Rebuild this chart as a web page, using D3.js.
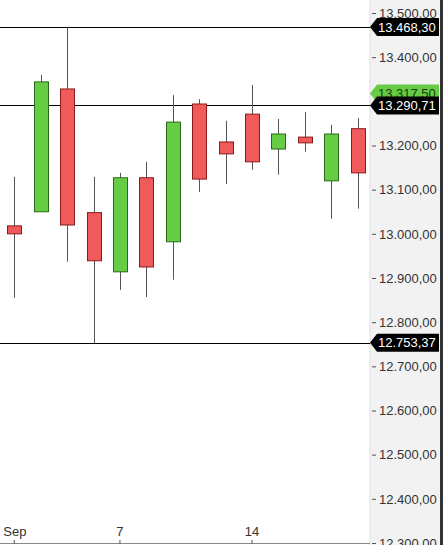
<!DOCTYPE html>
<html><head><meta charset="utf-8">
<script src="https://cdn.jsdelivr.net/npm/d3@7"></script>
<style>body{margin:0;background:#fff}svg{display:block}</style>
</head><body>
<svg id="c" width="444" height="545"></svg>
<script>
const days = ["Sep 1","Sep 2","Sep 3","Sep 4","Sep 7","Sep 8","Sep 9","Sep 10","Sep 11","Sep 14","Sep 15","Sep 16","Sep 17","Sep 18"];
const open  = [13018,13050,13328,13048,12914,13127,12982,13294,13208,13271,13192,13219,13120,13238];
const high  = [13129,13360,13468,13129,13138,13163,13314,13305,13256,13337,13260,13276,13247,13262];
const low   = [12855,13050,12937,12753,12873,12857,12896,13095,13113,13145,13134,13186,13034,13057];
const close = [13000,13344,13020,12939,13127,12925,13253,13124,13181,13163,13226,13206,13226,13138];
const yTicks = [13500,13400,13200,13100,13000,12900,12800,12700,12600,12500,12400,12300];
const xLabels = [{i:0,t:"Sep"},{i:4,t:"7"},{i:9,t:"14"}];
const levels = [13468.30,13290.71,12753.37];
const lastPrice = 13317.50;

const fmt = v => d3.format(",.2f")(v).replace(/,/g,"#").replace(".",",").replace(/#/g,".");
const svg = d3.select("#c");
const plotR = 370;
const x = d3.scaleBand().domain(d3.range(days.length)).range([2, plotR]).paddingInner(0.47).paddingOuter(0.2);
const y = d3.scaleLinear().domain([12300, 13500]).range([543, 13]);
const font = "Arial, Liberation Sans, sans-serif";

svg.append("rect").attr("x", plotR).attr("y", 0).attr("width", 71).attr("height", 545).attr("fill", "#f2f2f2");
svg.append("line").attr("x1", 441.5).attr("x2", 441.5).attr("y1", 0).attr("y2", 545).attr("stroke", "#333").attr("stroke-width", 3);
svg.append("line").attr("x1", plotR).attr("x2", plotR).attr("y1", 0).attr("y2", 545).attr("stroke", "#ddd");
svg.append("line").attr("x1", 0).attr("x2", plotR).attr("y1", 543.5).attr("y2", 543.5).attr("stroke", "#888");

const ax = svg.append("g").attr("transform", `translate(${plotR},0)`)
  .call(d3.axisRight(y).tickValues(yTicks).tickSize(4).tickPadding(5).tickFormat(fmt));
ax.select(".domain").remove();
ax.selectAll("line").attr("stroke", "#555").attr("transform", "translate(2,0)");
ax.selectAll("text").attr("font-family", font).attr("font-size", 13).attr("fill", "#333");

const xl = svg.append("g");
xLabels.forEach(d => {
  const cx = x(d.i) + x.bandwidth() / 2;
  xl.append("text").attr("x", d.t === "Sep" ? cx - 11 : cx).attr("y", 536).attr("text-anchor", d.t === "Sep" ? "start" : "middle")
    .attr("font-family", font).attr("font-size", 13).attr("fill", "#333").text(d.t);
  xl.append("line").attr("x1", cx).attr("x2", cx).attr("y1", 540).attr("y2", 544).attr("stroke", "#555");
});

levels.forEach(v => {
  svg.append("line").attr("x1", 0).attr("x2", plotR).attr("y1", Math.round(y(v)) + 0.5).attr("y2", Math.round(y(v)) + 0.5).attr("stroke", "#000");
});

const g = svg.append("g");
days.forEach((d, i) => {
  const cx = Math.round(x(i) + x.bandwidth() / 2) + 0.5;
  const up = close[i] >= open[i];
  g.append("line").attr("x1", cx).attr("x2", cx).attr("y1", y(high[i])).attr("y2", y(low[i])).attr("stroke", "#555");
  const top = y(Math.max(open[i], close[i])), bot = y(Math.min(open[i], close[i]));
  g.append("rect").attr("x", Math.round(x(i)) + 0.5).attr("y", top).attr("width", Math.round(x.bandwidth()))
    .attr("height", Math.max(1, bot - top)).attr("fill", up ? "#66cc44" : "#f05a5a").attr("stroke", up ? "#2a6a1a" : "#8a1a1a");
});

function tag(v, fill, col) {
  const yy = y(v);
  svg.append("path").attr("d", `M${plotR},${yy} L${plotR + 7},${yy - 9} L439,${yy - 9} L439,${yy + 9} L${plotR + 7},${yy + 9} Z`).attr("fill", fill);
  svg.append("text").attr("x", plotR + 8).attr("y", yy + 4.5).attr("font-family", font)
    .attr("font-size", 13).attr("fill", col).text(fmt(v));
}
tag(lastPrice, "#66cc44", "#1a3a10");
levels.forEach(v => tag(v, "#000", "#fff"));
</script>
</body></html>
